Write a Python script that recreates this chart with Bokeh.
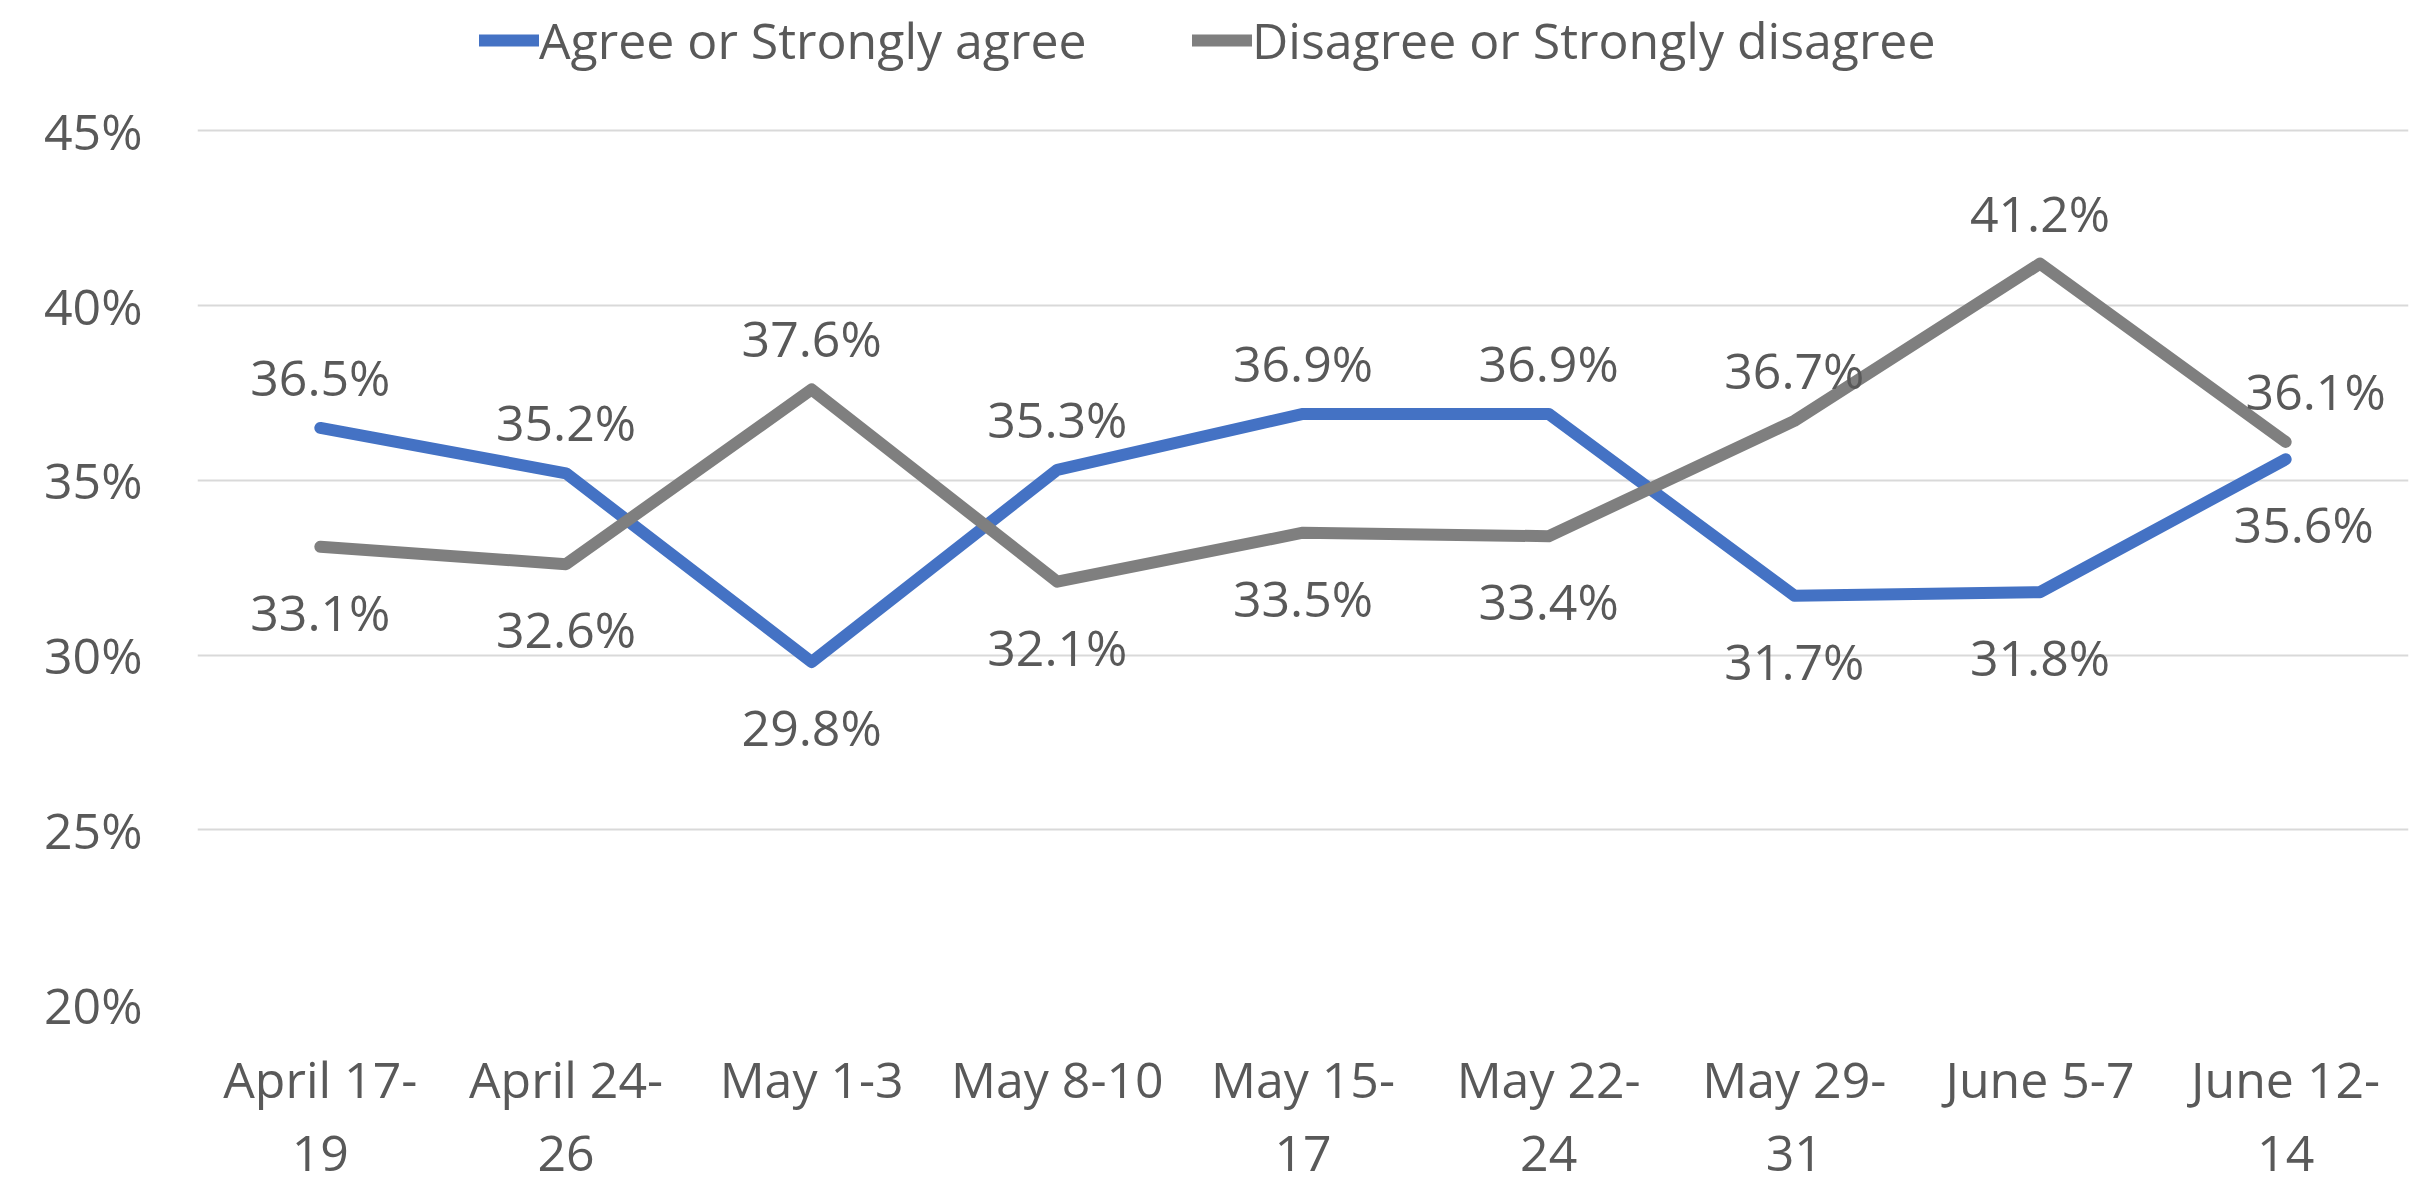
from bokeh.plotting import figure
from bokeh.models import FactorRange, Range1d, FixedTicker, Legend, LegendItem, ColumnDataSource
from bokeh.core.properties import value
from bokeh.embed import file_html
from bokeh.resources import INLINE

# ---- data ----
categories = ["April 17-\n19", "April 24-\n26", "May 1-3", "May 8-10", "May 15-\n17",
              "May 22-\n24", "May 29-\n31", "June 5-7", "June 12-\n14"]
agree = [36.5, 35.2, 29.8, 35.3, 36.9, 36.9, 31.7, 31.8, 35.6]
disagree = [33.1, 32.6, 37.6, 32.1, 33.5, 33.4, 36.7, 41.2, 36.1]
series_names = ["Agree or Strongly agree", "Disagree or Strongly disagree"]
y_ticks = [20, 25, 30, 35, 40, 45]

FONT = "Open Sans"
TXT = "#595959"
BLUE = "#4472C4"
GRAY = "#7F7F7F"
FS = "50px"

# frame spans the whole top of the page so the legend (inside the frame) is not clipped
p = figure(x_range=FactorRange(*categories, range_padding=0),
           y_range=Range1d(20, 48.73),
           width=2418, height=1188,
           min_border_left=197, min_border_right=10, min_border_top=0, min_border_bottom=150,
           output_backend="svg", toolbar_location=None)
p.outline_line_color = None
p.background_fill_color = "white"
p.border_fill_color = "white"

p.xgrid.grid_line_color = None
p.ygrid.grid_line_color = "#D9D9D9"
p.ygrid.grid_line_width = 2
p.yaxis.ticker = FixedTicker(ticks=y_ticks)
p.yaxis.major_label_overrides = {t: f"{t}%" for t in y_ticks}

for ax in (p.xaxis[0], p.yaxis[0]):
    ax.axis_line_color = None
    ax.major_tick_line_color = None
    ax.minor_tick_line_color = None
    ax.major_tick_out = 0
    ax.major_tick_in = 0
    ax.major_label_text_font = FONT
    ax.major_label_text_font_size = FS
    ax.major_label_text_color = TXT
p.yaxis.major_label_standoff = 55
p.xaxis.major_label_standoff = 40
p.xaxis.major_label_text_line_height = 1.08

src = ColumnDataSource(dict(x=categories, a=agree, d=disagree))
r1 = p.line("x", "a", source=src, line_color=BLUE, line_width=12, line_cap="round", line_join="round")
r2 = p.line("x", "d", source=src, line_color=GRAY, line_width=12, line_cap="round", line_join="round")

# data labels: higher series above, lower series below
n = len(categories)
lab_x, lab_y, lab_t, lab_yo, lab_xo = [], [], [], [], []
for i in range(n):
    for vals, other in ((agree, disagree), (disagree, agree)):
        v = vals[i]
        lab_x.append(categories[i])
        lab_y.append(v)
        lab_t.append(f"{v:.1f}%")
        lab_yo.append(-51 if v >= other[i] else 65)
        lab_xo.append(0 if i < n - 1 else (30 if v >= other[i] else 18))
lsrc = ColumnDataSource(dict(x=lab_x, y=lab_y, t=lab_t, yo=lab_yo, xo=lab_xo))
p.text(x="x", y="y", text="t", source=lsrc, x_offset="xo", y_offset="yo",
       text_align="center", text_baseline="middle", text_font=value(FONT),
       text_font_size=FS, text_color=TXT)

# legends
for r, name, lx in ((r1, series_names[0], 282), (r2, series_names[1], 995)):
    lg = Legend(items=[LegendItem(label=name, renderers=[r])], location=(lx, 930),
                orientation="horizontal", label_text_font=FONT, label_text_font_size=FS,
                label_text_color=TXT, glyph_width=60, glyph_height=40, label_standoff=0,
                padding=0, margin=0, border_line_color=None, background_fill_alpha=0)
    p.add_layout(lg, "center")

open("out.html", "w").write(file_html(p, INLINE))
